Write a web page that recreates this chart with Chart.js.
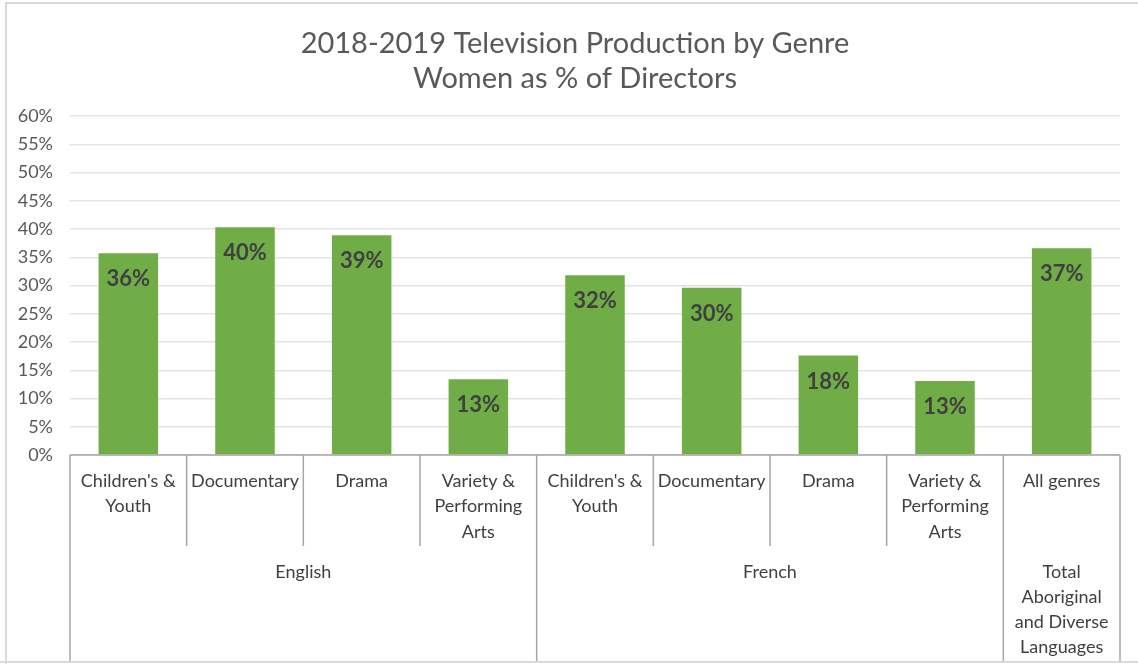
<!DOCTYPE html>
<html>
<head>
<meta charset="utf-8">
<script src="https://cdn.jsdelivr.net/npm/chart.js@4.4.1/dist/chart.umd.min.js"></script>
<style>
  html, body { margin: 0; padding: 0; background: #fff; }
  #wrap { width: 1138px; height: 664px; position: relative; }
</style>
</head>
<body>
<div id="wrap"><canvas id="c" width="1138" height="664"></canvas></div>
<script>
// ---- Data ----
const titleLines = ["2018-2019 Television Production by Genre", "Women as % of Directors"];
const genreLabels = [
  ["Children's &", "Youth"], ["Documentary"], ["Drama"], ["Variety &", "Performing", "Arts"],
  ["Children's &", "Youth"], ["Documentary"], ["Drama"], ["Variety &", "Performing", "Arts"],
  ["All genres"]
];
const groupLabels = [["English"], ["French"], ["Total", "Aboriginal", "and Diverse", "Languages"]];
const groupSizes = [4, 4, 1];
const womenPct = [35.7, 40.3, 38.9, 13.4, 31.8, 29.6, 17.6, 13.1, 36.6];
const yTicks = [0, 5, 10, 15, 20, 25, 30, 35, 40, 45, 50, 55, 60];

const FONT = "Lato, 'Open Sans', 'Liberation Sans', sans-serif";

const drawPlugin = {
  id: 'custom',
  beforeDraw(chart) {
    const ctx = chart.ctx;
    ctx.save();
    ctx.fillStyle = '#ffffff';
    ctx.fillRect(0, 0, chart.width, chart.height);
    ctx.restore();
  },
  afterDraw(chart) {
    const ctx = chart.ctx;
    const x = chart.scales.x;
    const area = chart.chartArea;
    const n = genreLabels.length;
    const w = (area.right - area.left) / n;
    ctx.save();

    // Title
    ctx.fillStyle = '#595959';
    ctx.font = "29px " + FONT;
    ctx.textAlign = 'center';
    ctx.textBaseline = 'middle';
    ctx.fillText(titleLines[0], 575, 44);
    ctx.fillText(titleLines[1], 575, 79);

    // Data labels
    const meta = chart.getDatasetMeta(0);
    ctx.font = "bold 22px " + FONT;
    ctx.fillStyle = '#404040';
    meta.data.forEach((bar, i) => {
      ctx.fillText(Math.round(womenPct[i]) + '%', bar.x, bar.y + 26);
    });

    // Category table lines
    const bottom = 661;
    const shortBottom = 546;
    ctx.strokeStyle = '#a6a6a6';
    ctx.lineWidth = 1.5;
    ctx.beginPath();
    ctx.moveTo(area.left, area.bottom);
    ctx.lineTo(area.right, area.bottom);
    let groupEdges = [0];
    groupSizes.reduce((acc, s) => { groupEdges.push(acc + s); return acc + s; }, 0);
    for (let i = 0; i <= n; i++) {
      const bx = x.getPixelForValue(Math.min(i, n - 1)) + (i === n ? w / 2 : -w / 2);
      const full = groupEdges.includes(i);
      ctx.moveTo(bx, area.bottom);
      ctx.lineTo(bx, full ? bottom : shortBottom);
    }
    ctx.stroke();

    // Genre labels
    ctx.font = "18px " + FONT;
    ctx.fillStyle = '#404040';
    genreLabels.forEach((lines, i) => {
      const cx = x.getPixelForValue(i);
      lines.forEach((t, j) => ctx.fillText(t, cx, 481 + j * 25.5));
    });

    // Group labels
    groupLabels.forEach((lines, g) => {
      const s = groupEdges[g], e = groupEdges[g + 1] - 1;
      const cx = (x.getPixelForValue(s) + x.getPixelForValue(e)) / 2;
      lines.forEach((t, j) => ctx.fillText(t, cx, 572 + j * 25));
    });

    // outer frame
    ctx.strokeStyle = '#d9d9d9';
    ctx.lineWidth = 2;
    ctx.beginPath();
    ctx.moveTo(6, 664);
    ctx.lineTo(6, 3);
    ctx.lineTo(1138, 3);
    ctx.moveTo(0, 662);
    ctx.lineTo(1138, 662);
    ctx.stroke();

    ctx.restore();
  }
};

new Chart(document.getElementById('c'), {
  type: 'bar',
  data: {
    labels: genreLabels.map(l => l.join(' ')),
    datasets: [{
      data: womenPct,
      backgroundColor: '#70AD47',
      borderWidth: 0,
      categoryPercentage: 1.0,
      barPercentage: 0.51
    }]
  },
  options: {
    responsive: false,
    animation: false,
    devicePixelRatio: 1,
    layout: { padding: { left: 0, top: 116, right: 18, bottom: 209 } },
    plugins: {
      legend: { display: false },
      title: { display: false },
      tooltip: { enabled: false }
    },
    scales: {
      x: { display: false },
      y: {
        min: 0, max: 60,
        afterFit(scale) { scale.width = 70; },
        afterBuildTicks(scale) { scale.ticks = yTicks.map(v => ({ value: v })); },
        border: { display: false },
        grid: { color: '#e3e3e3', lineWidth: 1.5, drawTicks: false },
        ticks: {
          padding: 17,
          color: '#595959',
          font: { family: FONT, size: 18 },
          callback: v => v + '%'
        }
      }
    }
  },
  plugins: [drawPlugin]
});
</script>
</body>
</html>
